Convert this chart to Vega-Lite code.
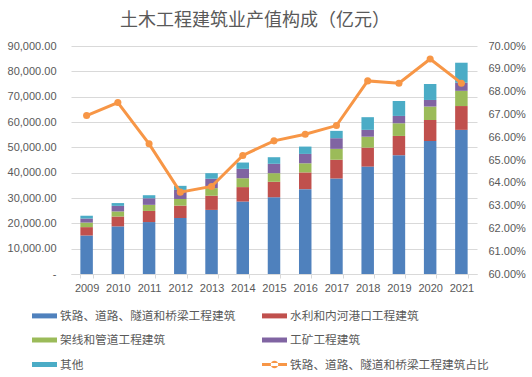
{
  "$schema": "https://vega.github.io/schema/vega-lite/v6.json",
  "width": 406,
  "height": 228,
  "autosize": {"type": "none"},
  "padding": {"left": 71, "top": 46, "right": 55, "bottom": 103},
  "background": "white",
  "title": {"text": "土木工程建筑业产值构成（亿元）", "font": "Noto Sans CJK SC", "fontSize": 18, "fontWeight": "normal", "color": "#595959", "anchor": "middle", "dx": -19, "offset": 10},
  "config": {"view": {"stroke": null}, "font": "Liberation Sans"},
  "datasets": {
    "bars": [
      {"year": "2009", "series": "铁路、道路、隧道和桥梁工程建筑", "rank": 1, "value": 15200},
      {"year": "2009", "series": "水利和内河港口工程建筑", "rank": 2, "value": 3300},
      {"year": "2009", "series": "架线和管道工程建筑", "rank": 3, "value": 1800},
      {"year": "2009", "series": "工矿工程建筑", "rank": 4, "value": 1600},
      {"year": "2009", "series": "其他", "rank": 5, "value": 1100},
      {"year": "2010", "series": "铁路、道路、隧道和桥梁工程建筑", "rank": 1, "value": 18800},
      {"year": "2010", "series": "水利和内河港口工程建筑", "rank": 2, "value": 3900},
      {"year": "2010", "series": "架线和管道工程建筑", "rank": 3, "value": 2000},
      {"year": "2010", "series": "工矿工程建筑", "rank": 4, "value": 2200},
      {"year": "2010", "series": "其他", "rank": 5, "value": 1100},
      {"year": "2011", "series": "铁路、道路、隧道和桥梁工程建筑", "rank": 1, "value": 20500},
      {"year": "2011", "series": "水利和内河港口工程建筑", "rank": 2, "value": 4400},
      {"year": "2011", "series": "架线和管道工程建筑", "rank": 3, "value": 2400},
      {"year": "2011", "series": "工矿工程建筑", "rank": 4, "value": 2600},
      {"year": "2011", "series": "其他", "rank": 5, "value": 1200},
      {"year": "2012", "series": "铁路、道路、隧道和桥梁工程建筑", "rank": 1, "value": 22100},
      {"year": "2012", "series": "水利和内河港口工程建筑", "rank": 2, "value": 4900},
      {"year": "2012", "series": "架线和管道工程建筑", "rank": 3, "value": 2600},
      {"year": "2012", "series": "工矿工程建筑", "rank": 4, "value": 3600},
      {"year": "2012", "series": "其他", "rank": 5, "value": 1600},
      {"year": "2013", "series": "铁路、道路、隧道和桥梁工程建筑", "rank": 1, "value": 25300},
      {"year": "2013", "series": "水利和内河港口工程建筑", "rank": 2, "value": 5600},
      {"year": "2013", "series": "架线和管道工程建筑", "rank": 3, "value": 3000},
      {"year": "2013", "series": "工矿工程建筑", "rank": 4, "value": 3700},
      {"year": "2013", "series": "其他", "rank": 5, "value": 2200},
      {"year": "2014", "series": "铁路、道路、隧道和桥梁工程建筑", "rank": 1, "value": 28600},
      {"year": "2014", "series": "水利和内河港口工程建筑", "rank": 2, "value": 5700},
      {"year": "2014", "series": "架线和管道工程建筑", "rank": 3, "value": 3500},
      {"year": "2014", "series": "工矿工程建筑", "rank": 4, "value": 3700},
      {"year": "2014", "series": "其他", "rank": 5, "value": 2500},
      {"year": "2015", "series": "铁路、道路、隧道和桥梁工程建筑", "rank": 1, "value": 30300},
      {"year": "2015", "series": "水利和内河港口工程建筑", "rank": 2, "value": 6100},
      {"year": "2015", "series": "架线和管道工程建筑", "rank": 3, "value": 3400},
      {"year": "2015", "series": "工矿工程建筑", "rank": 4, "value": 3700},
      {"year": "2015", "series": "其他", "rank": 5, "value": 2600},
      {"year": "2016", "series": "铁路、道路、隧道和桥梁工程建筑", "rank": 1, "value": 33500},
      {"year": "2016", "series": "水利和内河港口工程建筑", "rank": 2, "value": 6600},
      {"year": "2016", "series": "架线和管道工程建筑", "rank": 3, "value": 3600},
      {"year": "2016", "series": "工矿工程建筑", "rank": 4, "value": 3700},
      {"year": "2016", "series": "其他", "rank": 5, "value": 2900},
      {"year": "2017", "series": "铁路、道路、隧道和桥梁工程建筑", "rank": 1, "value": 37700},
      {"year": "2017", "series": "水利和内河港口工程建筑", "rank": 2, "value": 7400},
      {"year": "2017", "series": "架线和管道工程建筑", "rank": 3, "value": 4300},
      {"year": "2017", "series": "工矿工程建筑", "rank": 4, "value": 4200},
      {"year": "2017", "series": "其他", "rank": 5, "value": 2900},
      {"year": "2018", "series": "铁路、道路、隧道和桥梁工程建筑", "rank": 1, "value": 42400},
      {"year": "2018", "series": "水利和内河港口工程建筑", "rank": 2, "value": 7500},
      {"year": "2018", "series": "架线和管道工程建筑", "rank": 3, "value": 4300},
      {"year": "2018", "series": "工矿工程建筑", "rank": 4, "value": 2700},
      {"year": "2018", "series": "其他", "rank": 5, "value": 5000},
      {"year": "2019", "series": "铁路、道路、隧道和桥梁工程建筑", "rank": 1, "value": 46900},
      {"year": "2019", "series": "水利和内河港口工程建筑", "rank": 2, "value": 7600},
      {"year": "2019", "series": "架线和管道工程建筑", "rank": 3, "value": 5000},
      {"year": "2019", "series": "工矿工程建筑", "rank": 4, "value": 2900},
      {"year": "2019", "series": "其他", "rank": 5, "value": 5900},
      {"year": "2020", "series": "铁路、道路、隧道和桥梁工程建筑", "rank": 1, "value": 52500},
      {"year": "2020", "series": "水利和内河港口工程建筑", "rank": 2, "value": 8300},
      {"year": "2020", "series": "架线和管道工程建筑", "rank": 3, "value": 5300},
      {"year": "2020", "series": "工矿工程建筑", "rank": 4, "value": 2600},
      {"year": "2020", "series": "其他", "rank": 5, "value": 6300},
      {"year": "2021", "series": "铁路、道路、隧道和桥梁工程建筑", "rank": 1, "value": 56900},
      {"year": "2021", "series": "水利和内河港口工程建筑", "rank": 2, "value": 9400},
      {"year": "2021", "series": "架线和管道工程建筑", "rank": 3, "value": 6000},
      {"year": "2021", "series": "工矿工程建筑", "rank": 4, "value": 3200},
      {"year": "2021", "series": "其他", "rank": 5, "value": 7900}
    ],
    "share": [
      {"year": "2009", "share": 0.6695},
      {"year": "2010", "share": 0.6752},
      {"year": "2011", "share": 0.6571},
      {"year": "2012", "share": 0.6359},
      {"year": "2013", "share": 0.6384},
      {"year": "2014", "share": 0.6520},
      {"year": "2015", "share": 0.6584},
      {"year": "2016", "share": 0.6613},
      {"year": "2017", "share": 0.6651},
      {"year": "2018", "share": 0.6847},
      {"year": "2019", "share": 0.6837},
      {"year": "2020", "share": 0.6943},
      {"year": "2021", "share": 0.6837}
    ]
  },
  "layer": [
    {
      "data": {"name": "bars"},
      "mark": {"type": "bar"},
      "encoding": {
        "x": {"field": "year", "type": "ordinal", "scale": {"paddingInner": 0.6, "paddingOuter": 0.3},
          "axis": {"title": null, "labelAngle": 0, "tickBand": "extent", "domainColor": "#D9D9D9", "tickColor": "#D9D9D9", "tickSize": 4, "labelPadding": 4, "labelFontSize": 11, "labelColor": "#595959", "grid": false}},
        "y": {"field": "value", "type": "quantitative", "stack": "zero", "scale": {"domain": [0, 90000], "nice": false},
          "axis": {"title": null, "values": [0, 10000, 20000, 30000, 40000, 50000, 60000, 70000, 80000, 90000], "labelExpr": "datum.value === 0 ? '-\u00a0\u00a0' : format(datum.value, ',.2f')", "domain": false, "ticks": false, "labelPadding": 15, "gridColor": "#D9D9D9", "labelFontSize": 11, "labelColor": "#595959"}},
        "color": {"field": "series", "type": "nominal",
          "scale": {"domain": ["铁路、道路、隧道和桥梁工程建筑", "水利和内河港口工程建筑", "架线和管道工程建筑", "工矿工程建筑", "其他", "铁路、道路、隧道和桥梁工程建筑占比"],
                    "range": ["#4F81BD", "#C0504D", "#9BBB59", "#8064A2", "#4BACC6", "#F79646"]},
          "legend": {"title": null, "orient": "none", "direction": "horizontal", "legendX": -39, "legendY": 257, "columns": 2, "gridAlign": "all", "columnPadding": 3, "rowPadding": 4.5,
            "symbolSize": 625, "labelFont": "Noto Sans CJK SC", "labelFontSize": 11.7, "labelColor": "#595959", "labelLimit": 300, "labelOffset": 3,
            "encode": {"symbols": {"update": {
              "shape": {"signal": "datum.value === '铁路、道路、隧道和桥梁工程建筑占比' ? 'M-1,-0.12H1V0.12H-1Z M-0.3,0A0.3,0.3 0 1,0 0.3,0A0.3,0.3 0 1,0 -0.3,0Z' : 'M-1,-0.2H1V0.2H-1Z'"},
              "fill": {"scale": "color", "field": "value"},
              "stroke": {"value": "transparent"},
              "strokeWidth": {"value": 0},
              "opacity": {"value": 1},
              "fillOpacity": {"value": 1}
            }}}}},
        "order": {"field": "rank", "type": "quantitative"}
      }
    },
    {
      "data": {"name": "share"},
      "mark": {"type": "line", "strokeWidth": 3, "point": {"filled": true, "size": 50}},
      "encoding": {
        "x": {"field": "year", "type": "ordinal"},
        "y": {"field": "share", "type": "quantitative", "scale": {"domain": [0.6, 0.7], "nice": false},
          "axis": {"title": null, "orient": "right", "values": [0.6, 0.61, 0.62, 0.63, 0.64, 0.65, 0.66, 0.67, 0.68, 0.69, 0.7], "format": ".2%", "grid": false, "domain": false, "ticks": false, "labelPadding": 11, "labelFontSize": 11, "labelColor": "#595959"}},
        "color": {"datum": "铁路、道路、隧道和桥梁工程建筑占比"}
      }
    }
  ],
  "resolve": {"scale": {"y": "independent"}}
}
